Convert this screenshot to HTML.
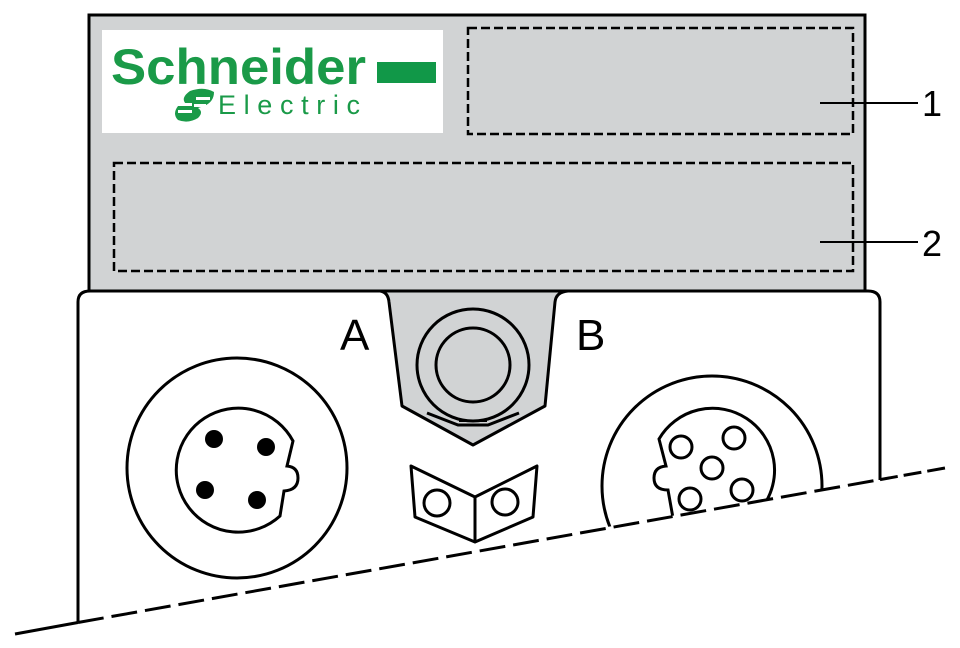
<!DOCTYPE html>
<html><head><meta charset="utf-8"><style>
html,body{margin:0;padding:0;background:#fff;width:960px;height:648px;overflow:hidden}
</style></head><body>
<svg width="960" height="648" viewBox="0 0 960 648" xmlns="http://www.w3.org/2000/svg">
<defs>
<clipPath id="cl"><polygon points="0,0 960,0 960,466 0,632"/></clipPath>
</defs>
<rect x="89" y="15" width="776" height="276" fill="#d1d3d4" stroke="#000" stroke-width="3"/>
<rect x="102" y="30" width="341" height="103" fill="#fff"/>
<text x="111" y="84" font-family="Liberation Sans, sans-serif" font-weight="bold" font-size="50" fill="#1a9a48" textLength="255" lengthAdjust="spacingAndGlyphs">Schneider</text>
<rect x="377" y="62" width="59" height="21" fill="#119848"/>
<path d="M190,91 Q204,86 214,92 Q214,102 204,106 L198,108 Q204,112 198,118 Q188,124 178,120 Q172,114 178,106 L186,104 Q180,98 190,91 Z" fill="#1a9a48"/>
<g fill="#fff"><rect x="176" y="103" width="16" height="3"/><rect x="178" y="110" width="14" height="3"/><rect x="196" y="97" width="14" height="3"/><rect x="194" y="104" width="12" height="3"/></g>
<text x="218" y="114" font-family="Liberation Sans, sans-serif" font-size="27" fill="#1a9a48" textLength="142" lengthAdjust="spacing">Electric</text>
<rect x="468" y="28" width="385" height="106" fill="none" stroke="#000" stroke-width="2.5" stroke-dasharray="9,4"/>
<rect x="114" y="163" width="739" height="108" fill="none" stroke="#000" stroke-width="2.5" stroke-dasharray="9,4"/>
<line x1="820" y1="103" x2="918" y2="103" stroke="#000" stroke-width="2"/>
<line x1="820" y1="242" x2="918" y2="242" stroke="#000" stroke-width="2"/>
<text x="922" y="116" font-family="Liberation Sans, sans-serif" font-size="36">1</text>
<text x="922" y="256" font-family="Liberation Sans, sans-serif" font-size="36">2</text>
<path d="M78,622 L78,302 Q78,291 90,291 L868,291 Q880,291 880,302 L880,480" fill="#fff" stroke="#000" stroke-width="3"/>
<path d="M380,291 Q388,292 389,302 L402,406 L473,445 L545,406 L555,302 Q556,292 568,291 Z" fill="#d1d3d4" stroke="#000" stroke-width="3" stroke-linejoin="round"/>
<circle cx="473" cy="365" r="56" fill="none" stroke="#000" stroke-width="3"/>
<circle cx="473" cy="365" r="37" fill="none" stroke="#000" stroke-width="3"/>
<path d="M427,413 L458,425 L488,425 L519,413" fill="none" stroke="#000" stroke-width="3"/>
<line x1="459" y1="421" x2="487" y2="421" stroke="#000" stroke-width="2"/>
<path d="M411,466 L475,497 L537,466 L533,517 L475,542 L415,517 Z" fill="#fff" stroke="#000" stroke-width="3" stroke-linejoin="round"/>
<line x1="475" y1="497" x2="475" y2="542" stroke="#000" stroke-width="3"/>
<circle cx="437" cy="503" r="13" fill="none" stroke="#000" stroke-width="3"/>
<circle cx="505" cy="502" r="13" fill="none" stroke="#000" stroke-width="3"/>
<text x="340" y="350" font-family="Liberation Sans, sans-serif" font-size="44">A</text>
<text x="576" y="350" font-family="Liberation Sans, sans-serif" font-size="44">B</text>
<circle cx="237" cy="468" r="110" fill="none" stroke="#000" stroke-width="3"/>
<path d="M293,441 A62,62 0 1 0 280,516 L284,491 Q298,490 298,478 Q298,467 287,466 Z" fill="none" stroke="#000" stroke-width="3"/>
<circle cx="214" cy="439" r="9"/><circle cx="266" cy="447" r="9"/>
<circle cx="205" cy="490" r="9"/><circle cx="257" cy="500" r="9"/>
<g clip-path="url(#cl)">
<circle cx="712" cy="486" r="110" fill="none" stroke="#000" stroke-width="3"/>
<path d="M659,439 A62,62 0 1 1 673,518 L668,490 Q654,490 654,478 Q654,467 666,466 Z" fill="none" stroke="#000" stroke-width="3"/>
</g>
<g fill="none" stroke="#000" stroke-width="3">
<circle cx="681" cy="447" r="11"/><circle cx="734" cy="438" r="11"/>
<circle cx="712" cy="468" r="11"/><circle cx="690" cy="499" r="11"/>
<circle cx="742" cy="490" r="11"/>
</g>
<line x1="15" y1="634" x2="78" y2="622.5" stroke="#000" stroke-width="3"/>
<line x1="78" y1="622.5" x2="880" y2="479.6" stroke="#000" stroke-width="3" stroke-dasharray="26,8"/>
<line x1="880" y1="479.6" x2="945" y2="468" stroke="#000" stroke-width="3" stroke-dasharray="18,6"/>
</svg>
</body></html>
